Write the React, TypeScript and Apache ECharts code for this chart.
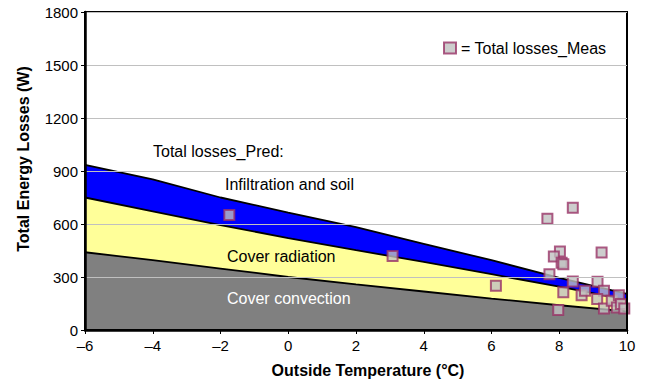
import React, { useEffect, useRef } from "react";
import * as echarts from "echarts";

// Model prediction temperatures (°C) and loss components (W), stacked bottom to top
const predTemps = [-6, -4, -2, 0, 2, 4, 6, 8, 10];
const coverConvection = [440, 395, 348, 300, 258, 218, 178, 140, 105];
const coverRadiation = [310, 277, 246, 220, 194, 167, 138, 105, 65];
const infiltrationSoil = [185, 180, 156, 145, 130, 103, 79, 50, 35];

// Measured total losses: outside temperature (°C) and losses (W)
const measTemps = [
  -1.74, 3.08, 6.13, 8.4, 7.65, 8.02, 7.84, 8.07, 8.12, 9.25, 7.71, 8.4, 8.12, 8.66,
  8.76, 9.13, 9.32, 9.12, 7.97, 9.32, 9.55, 9.76, 9.7, 9.82, 9.92,
];
const measLosses = [
  651, 419, 250, 692, 630, 444, 416, 380, 372, 438, 316, 275, 213, 197,
  222, 273, 222, 175, 113, 122, 165, 197, 128, 147, 122,
];

const xTicks = { min: -6, max: 10, interval: 2 };
const yTicks = { min: 0, max: 1800, interval: 300 };

const FONT = "'Liberation Sans', Arial, Helvetica, sans-serif";

export default function App() {
  const ref = useRef<HTMLDivElement>(null);

  useEffect(() => {
    if (!ref.current) return;
    const chart = echarts.init(ref.current, null, { renderer: "svg" });

    // cumulative tops of each band
    const convTop = coverConvection.slice();
    const radTop = coverRadiation.map((v, i) => v + convTop[i]);
    const infTop = infiltrationSoil.map((v, i) => v + radTop[i]);

    const band = (name: string, values: number[], color: string, z: number) => ({
      name,
      type: "line",
      data: predTemps.map((t, i) => [t, values[i]]),
      symbol: "none",
      lineStyle: { color: "#000", width: 1.8 },
      areaStyle: { color, opacity: 1, origin: "start" },
      silent: true,
      z,
    });

    chart.setOption({
      animation: false,
      textStyle: { fontFamily: FONT },
      grid: {
        left: 85,
        right: 18,
        top: 12,
        bottom: 52,
        show: true,
        borderColor: "#000",
        borderWidth: 2,
        backgroundColor: "transparent",
        z: 6,
      },
      legend: {
        data: ["Total losses_Meas"],
        left: 438,
        top: 35,
        itemWidth: 12,
        itemHeight: 11,
        formatter: (name: string) => "= " + name,
        textStyle: { fontFamily: FONT, fontSize: 16, color: "#000" },
      },
      xAxis: {
        type: "value",
        min: xTicks.min,
        max: xTicks.max,
        interval: xTicks.interval,
        name: "Outside Temperature (°C)",
        nameLocation: "middle",
        nameGap: 32,
        nameTextStyle: {
          fontFamily: FONT,
          fontSize: 16,
          fontWeight: "bold",
          color: "#000",
          padding: [0, 0, 0, 24],
        },
        axisLine: { show: true, onZero: false, lineStyle: { color: "#000", width: 2.5 } },
        axisTick: { show: true, length: 4, lineStyle: { color: "#000" } },
        axisLabel: {
          fontFamily: FONT,
          fontSize: 15,
          color: "#000",
          margin: 8,
          formatter: (v: number) => (v < 0 ? "\u2013" + Math.abs(v) : String(v)),
        },
        splitLine: { show: false },
        z: 6,
      },
      yAxis: {
        type: "value",
        min: yTicks.min,
        max: yTicks.max,
        interval: yTicks.interval,
        name: "Total Energy Losses (W)",
        nameLocation: "middle",
        nameGap: 54,
        nameTextStyle: {
          fontFamily: FONT,
          fontSize: 16,
          fontWeight: "bold",
          color: "#000",
          padding: [0, 0, 0, 24],
        },
        axisLine: { show: true, onZero: false, lineStyle: { color: "#000", width: 2.5 } },
        axisTick: { show: true, length: 4, lineStyle: { color: "#000" } },
        axisLabel: {
          fontFamily: FONT,
          fontSize: 15,
          color: "#000",
          margin: 7,
          formatter: (v: number) => String(v),
        },
        splitLine: { show: true, lineStyle: { color: "#C0C0C0", width: 1 } },
        z: 6,
      },
      series: [
        band("Infiltration and soil", infTop, "#0000FF", 1),
        band("Cover radiation", radTop, "#FFFF99", 2),
        band("Cover convection", convTop, "#808080", 3),
        {
          name: "Total losses_Meas",
          type: "scatter",
          data: measTemps.map((t, i) => [t, measLosses[i]]),
          symbol: "rect",
          symbolSize: 10,
          itemStyle: { color: "#C0C0C0", borderColor: "#993366", borderWidth: 2 },
          z: 5,
        },
      ],
      graphic: [
        {
          type: "text",
          left: 153,
          top: 143,
          style: { text: "Total losses_Pred:", fontFamily: FONT, fontSize: 16, fill: "#000" },
          z: 10,
        },
        {
          type: "text",
          left: 225,
          top: 176,
          style: { text: "Infiltration and soil", fontFamily: FONT, fontSize: 16, fill: "#000" },
          z: 10,
        },
        {
          type: "text",
          left: 227,
          top: 248,
          style: { text: "Cover radiation", fontFamily: FONT, fontSize: 16, fill: "#000" },
          z: 10,
        },
        {
          type: "text",
          left: 227,
          top: 290,
          style: { text: "Cover convection", fontFamily: FONT, fontSize: 16, fill: "#fff" },
          z: 10,
        },
      ],
    });

    return () => chart.dispose();
  }, []);

  return (
    <div
      ref={ref}
      style={{ position: "absolute", left: 0, top: 0, width: 645, height: 383, background: "#fff" }}
    />
  );
}
